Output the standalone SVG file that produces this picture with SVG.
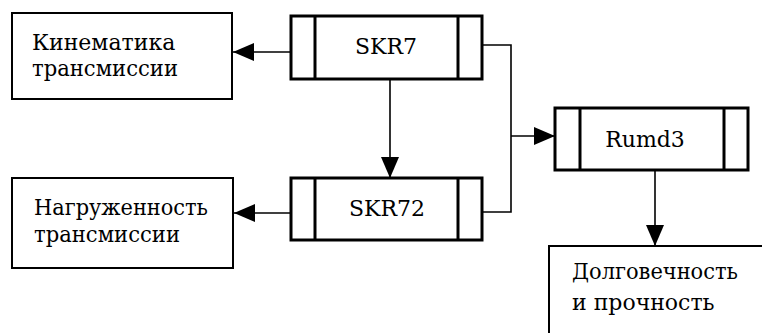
<svg xmlns="http://www.w3.org/2000/svg" width="762" height="333" viewBox="0 0 762 333">
<style>
.box{fill:#fff;stroke:#000;stroke-width:2}
.mod{fill:#fff;stroke:#000;stroke-width:3}
.bar{stroke:#000;stroke-width:3}
.conn{fill:none;stroke:#000;stroke-width:1.6}
.tc{text-anchor:middle}
</style>
<defs>
<marker id="ah" markerUnits="userSpaceOnUse" markerWidth="22" markerHeight="18" refX="21" refY="9" orient="auto">
<path d="M0,0 L21,9 L0,18 Z" fill="#000"/>
</marker>
</defs>
<rect width="762" height="333" fill="#fff"/>
<g id="connectors">
<line class="conn" x1="291" y1="52" x2="233" y2="52" marker-end="url(#ah)"/>
<line class="conn" x1="291" y1="213" x2="234" y2="213" marker-end="url(#ah)"/>
<line class="conn" x1="390" y1="79" x2="390" y2="178" marker-end="url(#ah)"/>
<polyline class="conn" points="482,45 511,45 511,212 482,212"/>
<line class="conn" x1="511" y1="136" x2="555" y2="136" marker-end="url(#ah)"/>
<line class="conn" x1="655" y1="170" x2="655" y2="246" marker-end="url(#ah)"/>
</g>
<g font-family="'DejaVu Serif', serif" font-size="22" fill="#000">
<g id="kinematika">
<rect class="box" x="12" y="13" width="220" height="86"/>
<text x="32" y="50">Кинематика</text>
<text x="32" y="76" textLength="146" lengthAdjust="spacingAndGlyphs">трансмиссии</text>
</g>
<g id="nagruzhennost">
<rect class="box" x="12" y="178" width="221" height="90"/>
<text x="34" y="215" textLength="174" lengthAdjust="spacingAndGlyphs">Нагруженность</text>
<text x="34" y="242" textLength="146" lengthAdjust="spacingAndGlyphs">трансмиссии</text>
</g>
<g id="skr7">
<rect class="mod" x="291" y="16" width="191" height="63"/>
<line class="bar" x1="315" y1="16" x2="315" y2="79"/>
<line class="bar" x1="458" y1="16" x2="458" y2="79"/>
<text class="tc" x="386" y="54">SKR7</text>
</g>
<g id="skr72">
<rect class="mod" x="291" y="178" width="191" height="62"/>
<line class="bar" x1="315" y1="178" x2="315" y2="240"/>
<line class="bar" x1="458" y1="178" x2="458" y2="240"/>
<text class="tc" x="387" y="216">SKR72</text>
</g>
<g id="rumd3">
<rect class="mod" x="555" y="108" width="193" height="62"/>
<line class="bar" x1="580" y1="108" x2="580" y2="170"/>
<line class="bar" x1="724" y1="108" x2="724" y2="170"/>
<text class="tc" x="645" y="147">Rumd3</text>
</g>
<g id="dolgovechnost">
<polyline class="box" fill="none" points="549,340 549,246 770,246"/>
<text x="572" y="279" textLength="166" lengthAdjust="spacingAndGlyphs">Долговечность</text>
<text x="572" y="310">и прочность</text>
</g>
</g>
</svg>
